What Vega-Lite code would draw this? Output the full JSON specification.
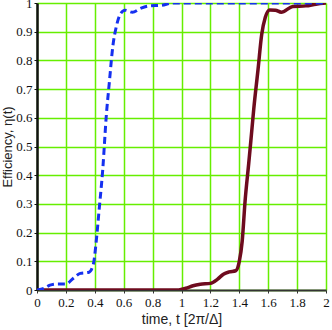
{
  "$schema": "https://vega.github.io/schema/vega-lite/v6.json",
  "width": 289,
  "height": 287,
  "autosize": {"type": "none"},
  "padding": {"left": 37, "top": 3, "right": 6, "bottom": 40},
  "background": "white",
  "config": {"view": {"stroke": null}},
  "datasets": {
    "blue": [
      {"t": 0, "e": 0}, {"t": 0.05, "e": 0.006}, {"t": 0.09, "e": 0.017}, {"t": 0.14, "e": 0.021}, {"t": 0.2, "e": 0.021},
      {"t": 0.25, "e": 0.04}, {"t": 0.3, "e": 0.058}, {"t": 0.36, "e": 0.062}, {"t": 0.39, "e": 0.09}, {"t": 0.41, "e": 0.17},
      {"t": 0.43, "e": 0.28}, {"t": 0.455, "e": 0.42}, {"t": 0.48, "e": 0.61}, {"t": 0.5, "e": 0.72}, {"t": 0.525, "e": 0.85},
      {"t": 0.55, "e": 0.92}, {"t": 0.575, "e": 0.96}, {"t": 0.61, "e": 0.975}, {"t": 0.66, "e": 0.968}, {"t": 0.72, "e": 0.982},
      {"t": 0.78, "e": 0.99}, {"t": 0.86, "e": 0.992}, {"t": 0.94, "e": 1.0}, {"t": 1.2, "e": 1.0}, {"t": 1.6, "e": 1.0}, {"t": 2.0, "e": 1.0}
    ],
    "red": [
      {"t": 0, "e": 0}, {"t": 0.98, "e": 0}, {"t": 1.03, "e": 0.006}, {"t": 1.08, "e": 0.015}, {"t": 1.13, "e": 0.02},
      {"t": 1.2, "e": 0.023}, {"t": 1.25, "e": 0.038}, {"t": 1.29, "e": 0.055}, {"t": 1.33, "e": 0.063}, {"t": 1.375, "e": 0.067},
      {"t": 1.4, "e": 0.1}, {"t": 1.42, "e": 0.17}, {"t": 1.44, "e": 0.31}, {"t": 1.465, "e": 0.44}, {"t": 1.48, "e": 0.52},
      {"t": 1.5, "e": 0.63}, {"t": 1.53, "e": 0.77}, {"t": 1.555, "e": 0.89}, {"t": 1.58, "e": 0.95}, {"t": 1.61, "e": 0.976},
      {"t": 1.65, "e": 0.975}, {"t": 1.69, "e": 0.968}, {"t": 1.77, "e": 0.988}, {"t": 1.86, "e": 0.99}, {"t": 1.93, "e": 0.996}, {"t": 2.0, "e": 1.0}
    ]
  },
  "encoding": {
    "x": {
      "field": "t", "type": "quantitative",
      "scale": {"domain": [0, 2], "nice": false},
      "axis": {
        "values": [0, 0.2, 0.4, 0.6, 0.8, 1, 1.2, 1.4, 1.6, 1.8, 2],
        "format": "~g",
        "title": "time, t [2π/Δ]",
        "titleFont": "Liberation Sans", "titleFontSize": 14, "titleFontWeight": "normal", "titleColor": "#222",
        "titlePadding": 3,
        "labelFont": "Liberation Serif", "labelFontSize": 13, "labelColor": "#111",
        "labelPadding": 3,
        "domainColor": "#333", "domainWidth": 2,
        "tickColor": "#333", "tickSize": 3,
        "grid": true, "gridColor": "#66ee00", "gridWidth": 1.5,
        "labelFlush": false
      }
    },
    "y": {
      "field": "e", "type": "quantitative",
      "scale": {"domain": [0, 1], "nice": false},
      "axis": {
        "values": [0, 0.1, 0.2, 0.3, 0.4, 0.5, 0.6, 0.7, 0.8, 0.9, 1],
        "format": "~g",
        "title": "Efficiency, η(t)",
        "titleFont": "Liberation Sans", "titleFontSize": 13, "titleFontWeight": "normal", "titleColor": "#222",
        "titlePadding": 1,
        "labelFont": "Liberation Serif", "labelFontSize": 13, "labelColor": "#111",
        "labelPadding": 2,
        "domainColor": "#111", "domainWidth": 2.5,
        "tickColor": "#111", "tickSize": 3,
        "grid": true, "gridColor": "#66ee00", "gridWidth": 1.5,
        "labelFlush": false
      }
    }
  },
  "layer": [
    {
      "data": {"name": "red"},
      "mark": {"type": "line", "color": "#6e0b1e", "strokeWidth": 3.5, "interpolate": "monotone", "clip": true}
    },
    {
      "data": {"name": "blue"},
      "mark": {"type": "line", "color": "#1530f0", "strokeWidth": 3, "strokeDash": [7, 4], "interpolate": "monotone", "clip": true}
    }
  ]
}
